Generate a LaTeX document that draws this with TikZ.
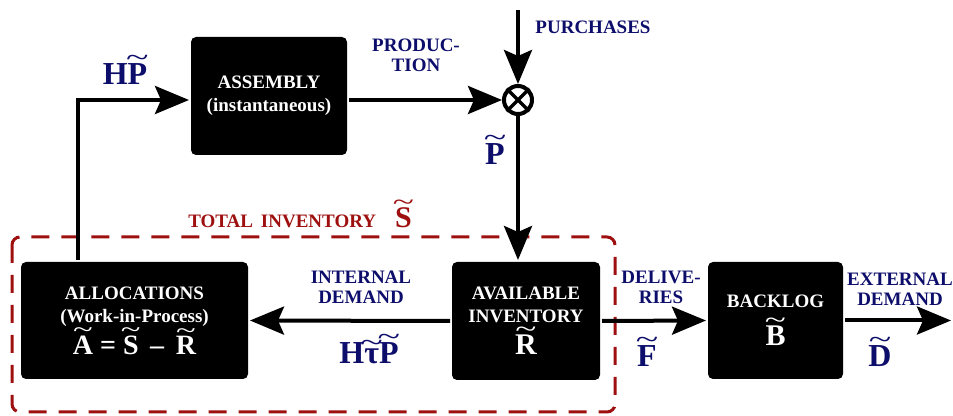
\documentclass[tikz,border=0pt]{standalone}
\usepackage{fontspec}
\setmainfont{Liberation Serif}
\usetikzlibrary{positioning,arrows.meta}
\definecolor{navyink}{rgb}{0.05, 0.05, 0.42}
\definecolor{framered}{rgb}{0.62, 0.06, 0.06}
% letter with a thin tilde stacked above it (tilde takes no width)
\newcommand{\tld}[1]{\leavevmode\vbox{\offinterlineskip\halign{\hfil##\hfil\cr\makebox[0pt]{\scalebox{1.3}[0.85]{\mdseries\textasciitilde}}\cr\noalign{\kern-0.08em}#1\cr}}}

\begin{document}
\begin{tikzpicture}[x=0.5pt, y=-0.5pt, line width=2pt, -{Stealth[length=17pt,width=14pt,inset=3pt]},
	block/.style={rectangle, fill=black, text=white, rounded corners=2.5pt, align=center, inner sep=0pt, font=\bfseries\fontsize{9.5}{11.5}\selectfont},
	lbl/.style={text=navyink, align=center, inner sep=0pt, font=\bfseries\fontsize{9.5}{10}\selectfont},
	sym/.style={text=navyink, inner sep=0pt, font=\bfseries\fontsize{16}{16}\selectfont}]
		\useasboundingbox (0,0) rectangle (953,416);
		% total inventory frame
		\draw [-, framered, line width=1.5pt, dash pattern=on 9pt off 6pt, rounded corners=4pt] (12,237) rectangle (615,412);
		\node [text=framered, inner sep=0pt, font=\bfseries\fontsize{9.5}{10}\selectfont] (TOTAL) at (300,214) {TOTAL\, INVENTORY\quad{\fontsize{15}{15}\selectfont\tld{S}}};
		% blocks
		\node [block, minimum width=78pt, minimum height=59pt] (ASSEMBLY) at (269,96) {ASSEMBLY\\(instantaneous)};
		\node [block, minimum width=74pt, minimum height=59pt] (AVAIL) at (526,321) {AVAILABLE\\INVENTORY\\[1pt]{\fontsize{15}{15}\selectfont\tld{R}}};
		\node [block, minimum width=113.5pt, minimum height=58.5pt] (ALLOC) at (134.5,320.5) {ALLOCATIONS\\(Work-in-Process)\\[0pt]{\fontsize{14}{14}\selectfont\tld{A} = \tld{S} \,–\, \tld{R}}};
		\node [block, minimum width=67.5pt, minimum height=58.5pt] (BACKLOG) at (775.5,320.5) {BACKLOG\\[4pt]{\fontsize{15}{15}\selectfont\tld{B}}};
		\node [circle, draw=black, fill=white, line width=2pt, minimum size=14pt, inner sep=0pt] (SUM) at (518,100) {};
		\draw [-, line width=1.6pt] (SUM.north west) -- (SUM.south east);
		\draw [-, line width=1.6pt] (SUM.north east) -- (SUM.south west);
		\coordinate (SOURCE) at (518,10);
		\coordinate (FEEDBACK) at (78,100);
		\coordinate (SINK) at (951,320.5);
		% flow labels
		\node [lbl] (PRODLBL) at (416,55) {PRODUC-\\TION};
		\node [lbl] (PURCHLBL) at (593,27) {PURCHASES};
		\node [sym] (HPLBL) at (125,70) {H\tld{P}};
		\node [sym] (PLBL) at (495,150) {\tld{P}};
		\node [lbl] (INTLBL) at (361,287) {INTERNAL\\DEMAND};
		\node [sym] (HTPLBL) at (369,349) {H\tld{τ}\tld{P}};
		\node [lbl] (DELLBL) at (661,287) {DELIVE-\\RIES};
		\node [sym] (FLBL) at (647,352) {\tld{F}};
		\node [lbl] (EXTLBL) at (900,289) {EXTERNAL\\DEMAND};
		\node [sym] (DLBL) at (880,352) {\tld{D}};
		% connectors
		\path (SOURCE) edge (SUM.north);
		\path (ASSEMBLY.east |- SUM.west) edge (SUM.west);
		\path (SUM.south) edge (SUM.south |- AVAIL.north);
		\path (AVAIL.west) edge (ALLOC.east);
		\draw (ALLOC.north -| FEEDBACK) |- (ASSEMBLY.west |- FEEDBACK);
		\path (AVAIL.east) edge (BACKLOG.west);
		\path (BACKLOG.east) edge (SINK);
\end{tikzpicture}
\end{document}
